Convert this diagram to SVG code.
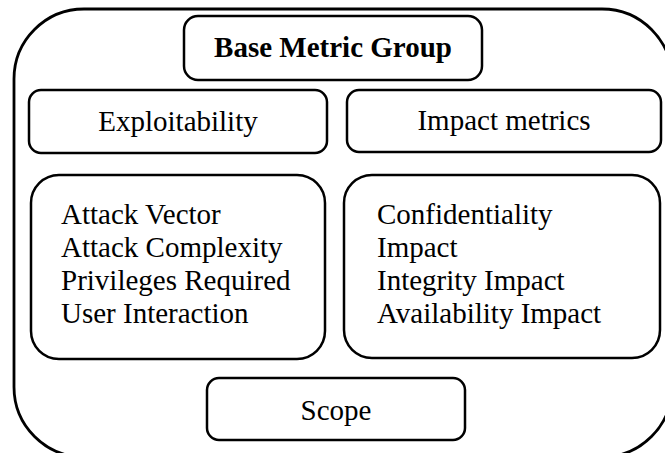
<svg xmlns="http://www.w3.org/2000/svg" width="665" height="453" viewBox="0 0 665 453">
  <style>
    .box { fill: #ffffff; stroke: #000000; stroke-width: 2.5; }
    .outer { fill: #ffffff; stroke: #000000; stroke-width: 2.8; }
    .lbl { font-family: "Liberation Serif", "Times New Roman", serif; font-size: 29px; fill: #000000; }
    .mid { text-anchor: middle; }
    .bold { font-weight: bold; }
  </style>
  <rect width="665" height="453" fill="#ffffff"/>

  <!-- enclosing group frame -->
  <g id="base-metric-frame">
    <rect class="outer" x="14" y="9" width="658" height="448" rx="70" ry="70"/>
  </g>

  <g id="base-metric-group">
    <rect class="box" x="184" y="16" width="298" height="64" rx="14" ry="14"/>
    <text class="lbl mid bold" x="333" y="57">Base Metric Group</text>
  </g>

  <g id="exploitability">
    <rect class="box" x="29" y="90" width="298" height="63" rx="12" ry="12"/>
    <text class="lbl mid" x="178" y="130.5">Exploitability</text>
  </g>

  <g id="impact-metrics">
    <rect class="box" x="347" y="90" width="314" height="62" rx="12" ry="12"/>
    <text class="lbl mid" x="504" y="130">Impact metrics</text>
  </g>

  <g id="exploitability-metrics">
    <rect class="box" x="31" y="175" width="294" height="184" rx="28" ry="28"/>
    <text class="lbl" x="61" y="224">Attack Vector</text>
    <text class="lbl" x="61" y="257">Attack Complexity</text>
    <text class="lbl" x="61" y="290">Privileges Required</text>
    <text class="lbl" x="61" y="323">User Interaction</text>
  </g>

  <g id="impact-list">
    <rect class="box" x="344" y="175" width="316" height="183" rx="28" ry="28"/>
    <text class="lbl" x="377" y="224">Confidentiality</text>
    <text class="lbl" x="377" y="257">Impact</text>
    <text class="lbl" x="377" y="290">Integrity Impact</text>
    <text class="lbl" x="377" y="323">Availability Impact</text>
  </g>

  <g id="scope">
    <rect class="box" x="207" y="378" width="258" height="62" rx="12" ry="12"/>
    <text class="lbl mid" x="336" y="420">Scope</text>
  </g>

  <g id="connectors"></g>
</svg>
